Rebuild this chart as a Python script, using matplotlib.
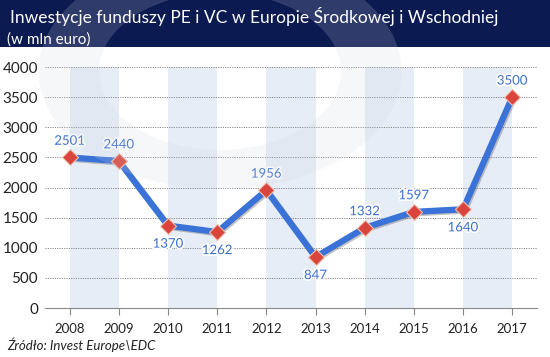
import matplotlib
matplotlib.use("Agg")
import matplotlib.pyplot as plt
import matplotlib.patheffects as pe
from matplotlib.patches import Rectangle, Wedge

years = ["2008", "2009", "2010", "2011", "2012", "2013", "2014", "2015", "2016", "2017"]
values = [2501, 2440, 1370, 1262, 1956, 847, 1332, 1597, 1640, 3500]
label_pos = ["above", "above", "below", "below", "above", "below", "above", "above", "below", "above"]
yticks = [0, 500, 1000, 1500, 2000, 2500, 3000, 3500, 4000]

title = "Inwestycje funduszy PE i VC w Europie Środkowej i Wschodniej"
subtitle = "(w mln euro)"
source = "Źródło: Invest Europe\\EDC"

plt.rcParams['font.family'] = ['Lato', 'DejaVu Sans']

fig = plt.figure(figsize=(5.5, 3.57), dpi=100)
fig.patch.set_facecolor("white")

# title banner
fig.patches.append(Rectangle((0, 0.868), 1, 0.132, transform=fig.transFigure,
                             facecolor="#0c1a52", edgecolor="none", zorder=1))

# watermark (faint logo ring)
fig.patches.append(Wedge((0.40, 0.80), 0.33, 0, 360, width=0.11, transform=fig.transFigure,
                         facecolor="#d0d4dc", alpha=0.18, edgecolor="none", zorder=1.5))

fig.text(0.018, 0.953, title, color="white", fontsize=12.5, va="center", ha="left", zorder=2)
fig.text(0.013, 0.890, subtitle, color="white", fontsize=11, va="center", ha="left", zorder=2)

ax = fig.add_axes([0.082, 0.137, 0.894, 0.675])
ax.set_facecolor("none")
x = list(range(len(years)))

for i in range(0, len(years) - 1, 2):
    ax.axvspan(i, i + 1, color="#dfe7f5", alpha=0.75, lw=0, zorder=0)

ax.set_xlim(-0.5, 9.5)
ax.set_ylim(0, 4000)
ax.set_yticks(yticks)
ax.set_yticklabels([str(v) for v in yticks], fontsize=11, color="#222222")
ax.set_xticks(x)
ax.set_xticklabels(years, fontsize=9.5, color="#222222")
ax.tick_params(axis="y", length=0, pad=5)
ax.tick_params(axis="x", length=5, color="#888888", pad=6)
for t in yticks[1:]:
    ax.axhline(t, color="#888888", lw=0.7, ls=(0, (1.2, 1.2)), zorder=1)
for s in ["top", "right", "left"]:
    ax.spines[s].set_visible(False)
ax.spines["bottom"].set_color("#888888")

ax.plot(x, values, color="#3a72d8", lw=4.5, zorder=3, solid_joinstyle="miter",
        path_effects=[pe.SimpleLineShadow(offset=(1, -1), shadow_color="#555555", alpha=0.35),
                      pe.Normal()])
ax.plot(x, values, ls="none", marker="D", ms=8.5, mfc="#d9453c", mec="#f0c0b0", mew=0.8, zorder=4)

for xi, v, pos in zip(x, values, label_pos):
    off = 12 if pos == "above" else -13
    ax.annotate(str(v), (xi, v), xytext=(0, off), textcoords="offset points",
                ha="center", va="center", fontsize=9.5, color="#3a6fd0", zorder=5,
                path_effects=[pe.withStroke(linewidth=2.5, foreground="white")])

fig.text(0.013, 0.034, source, fontsize=9.5, style="italic", color="#222222", va="center")

fig.savefig("out.png", dpi=100)
